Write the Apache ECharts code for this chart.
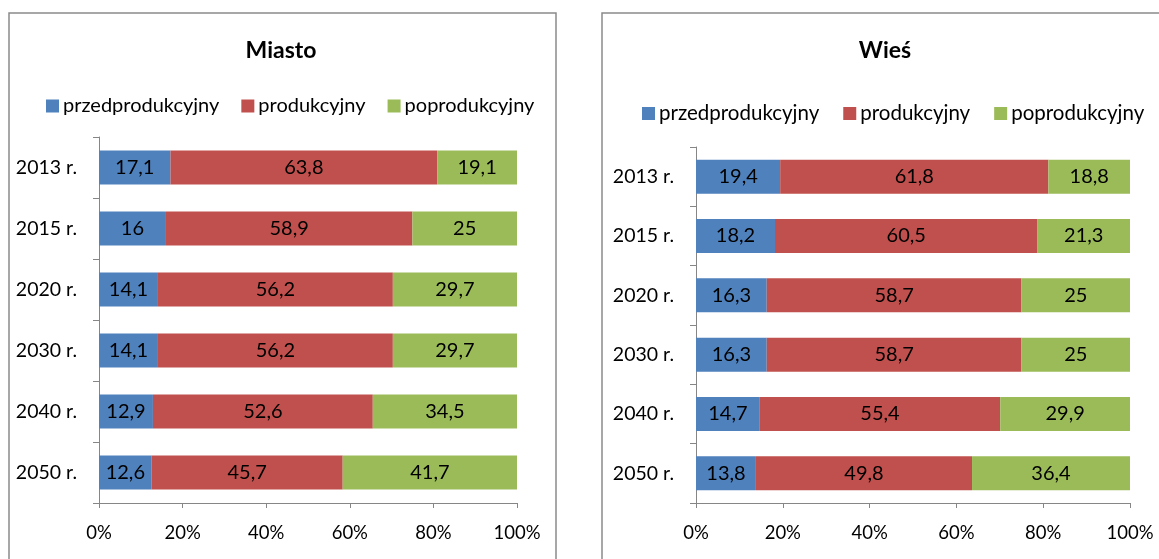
<!DOCTYPE html>
<html>
<head>
<meta charset="utf-8">
<script src="https://cdn.jsdelivr.net/npm/echarts@6/dist/echarts.min.js"></script>
<style>
html,body{margin:0;padding:0;background:#fff;}
#c{width:1159px;height:559px;}
</style>
</head>
<body>
<div id="c"></div>
<script>
const categories = ['2013 r.', '2015 r.', '2020 r.', '2030 r.', '2040 r.', '2050 r.'];
const seriesNames = ['przedprodukcyjny', 'produkcyjny', 'poprodukcyjny'];
const xTicks = [0, 20, 40, 60, 80, 100];

const miastoPrzed = [17.1, 16, 14.1, 14.1, 12.9, 12.6];
const miastoProd = [63.8, 58.9, 56.2, 56.2, 52.6, 45.7];
const miastoPoprod = [19.1, 25, 29.7, 29.7, 34.5, 41.7];

const wiesPrzed = [19.4, 18.2, 16.3, 16.3, 14.7, 13.8];
const wiesProd = [61.8, 60.5, 58.7, 58.7, 55.4, 49.8];
const wiesPoprod = [18.8, 21.3, 25, 25, 29.9, 36.4];

const colors = ['#4F81BD', '#C0504D', '#9BBB59'];
const FONT = 'Lato';

function pct(arrs) {
  // 100% stacked: each category normalised to its own total
  return arrs.map(a => a.map((v, i) => {
    const tot = arrs.reduce((s, b) => s + b[i], 0);
    return { value: v / tot * 100, raw: v };
  }));
}

const miasto = pct([miastoPrzed, miastoProd, miastoPoprod]);
const wies = pct([wiesPrzed, wiesProd, wiesPoprod]);

const axisColor = '#868686';

function makeSeries(data, idx, stack) {
  return data.map((d, k) => ({
    name: seriesNames[k],
    type: 'bar',
    stack: stack,
    xAxisIndex: idx,
    yAxisIndex: idx,
    barWidth: 34,
    itemStyle: { color: colors[k] },
    label: {
      show: true,
      position: 'inside',
      color: '#000',
      fontFamily: FONT,
      fontSize: 20,
      formatter: p => String(p.data.raw).replace('.', ',')
    },
    data: d
  }));
}

function xAxis(idx) {
  return {
    gridIndex: idx,
    type: 'value',
    min: 0, max: 100, interval: 20,
    splitLine: { show: false },
    axisLine: { show: true, lineStyle: { color: axisColor, width: 1 } },
    axisTick: { show: true, length: 5, lineStyle: { color: axisColor } },
    axisLabel: {
      color: '#000', fontFamily: FONT, fontSize: 18.5, margin: 21,
      formatter: v => xTicks.includes(v) ? v + '%' : ''
    }
  };
}

function yAxis(idx) {
  return {
    gridIndex: idx,
    type: 'category',
    inverse: true,
    data: categories,
    axisLine: { show: true, lineStyle: { color: axisColor, width: 1 } },
    axisTick: { show: true, length: 6, lineStyle: { color: axisColor } },
    axisLabel: { color: '#000', fontFamily: FONT, fontSize: 19.5, margin: 22 }
  };
}

function legend(left, top, size, gap) {
  return {
    icon: 'rect', itemWidth: 13, itemHeight: 13, itemGap: gap, padding: 0,
    left: left, top: top,
    textStyle: { color: '#000', fontFamily: FONT, fontSize: size, padding: [0, 0, 0, -1] },
    data: seriesNames
  };
}

const chart = echarts.init(document.getElementById('c'), null, { renderer: 'canvas' });
chart.setOption({
  animation: false,
  backgroundColor: '#fff',
  title: [
    { text: 'Miasto', left: 281, top: 39, textAlign: 'center', padding: 0,
      textStyle: { fontFamily: FONT, fontWeight: 'bold', fontSize: 23, color: '#000' } },
    { text: 'Wieś', left: 885, top: 39, textAlign: 'center', padding: 0,
      textStyle: { fontFamily: FONT, fontWeight: 'bold', fontSize: 23, color: '#000' } }
  ],
  legend: [
    legend(46, 96, 20, 22),
    legend(642, 103, 20.5, 24)
  ],
  grid: [
    { left: 99, right: 1159 - 517, top: 137, bottom: 559 - 503, containLabel: false },
    { left: 696, right: 1159 - 1130, top: 147, bottom: 559 - 503, containLabel: false }
  ],
  xAxis: [xAxis(0), xAxis(1)],
  yAxis: [yAxis(0), yAxis(1)],
  series: makeSeries(miasto, 0, 'm').concat(makeSeries(wies, 1, 'w')),
  graphic: [
    { type: 'rect', shape: { x: 9, y: 13, width: 547, height: 600 },
      style: { fill: 'none', stroke: '#8a8a8a', lineWidth: 1.5 }, z: -1 },
    { type: 'rect', shape: { x: 602, y: 13, width: 600, height: 600 },
      style: { fill: 'none', stroke: '#8a8a8a', lineWidth: 1.5 }, z: -1 }
  ]
});
</script>
</body>
</html>
